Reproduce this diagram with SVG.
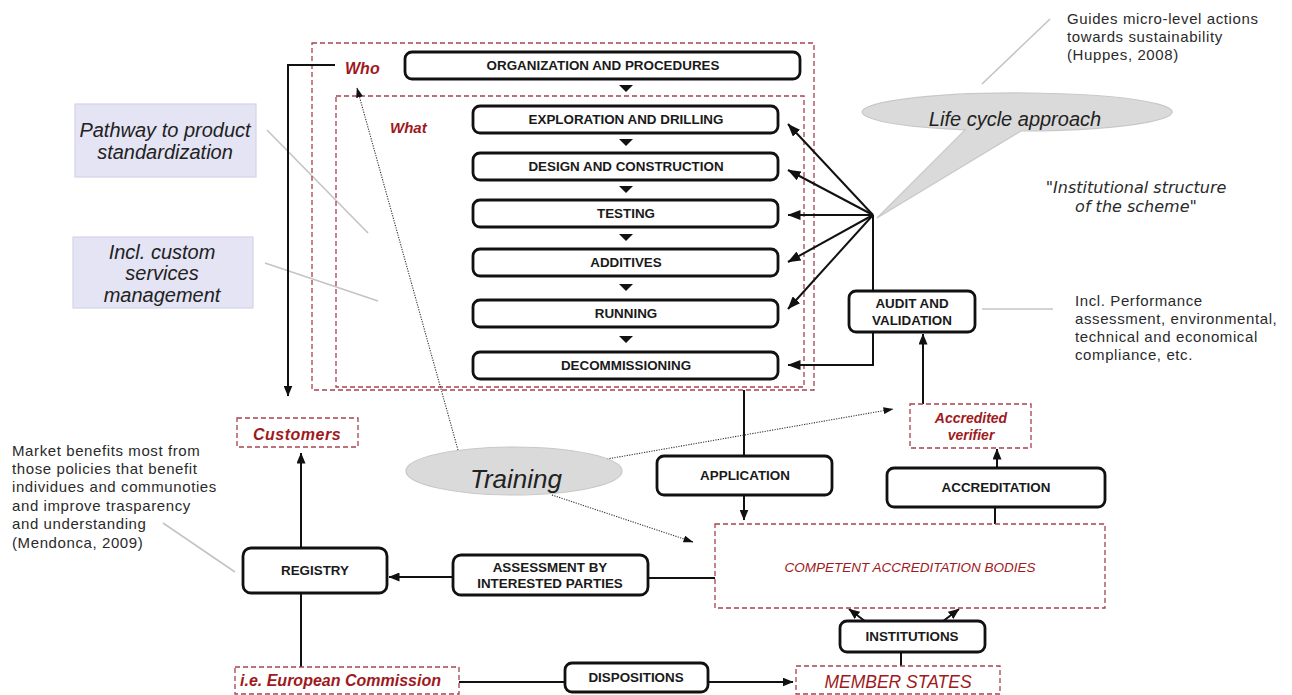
<svg xmlns="http://www.w3.org/2000/svg" width="1292" height="695" viewBox="0 0 1292 695">
<defs>
<marker id="ah" markerUnits="userSpaceOnUse" viewBox="0 0 11 9" markerWidth="11" markerHeight="9" refX="10.5" refY="4.5" orient="auto"><path d="M0,0 L11,4.5 L0,9 z" fill="#111"/></marker>
<marker id="ahb" markerUnits="userSpaceOnUse" viewBox="0 0 13 10" markerWidth="13" markerHeight="10" refX="12.5" refY="5" orient="auto"><path d="M0,0 L13,5 L0,10 z" fill="#111"/></marker>
<marker id="ahs" markerUnits="userSpaceOnUse" viewBox="0 0 10 7" markerWidth="10" markerHeight="7" refX="9.5" refY="3.5" orient="auto"><path d="M0,0 L10,3.5 L0,7 z" fill="#111"/></marker>
</defs>
<style>
.box{fill:#fff;stroke:#111;stroke-width:2.8}
.dash{fill:none;stroke:#a8404f;stroke-width:1.3;stroke-dasharray:5,3}
.dashw{fill:#fff;stroke:#a8404f;stroke-width:1.3;stroke-dasharray:5,3}
.lbl{font-family:"Liberation Sans",Arial,sans-serif;font-weight:bold;font-size:13.4px;fill:#1a1a1a;text-anchor:middle}
.red{font-family:"Liberation Sans",Arial,sans-serif;font-style:italic;font-weight:bold;fill:#9e1a1e}
.redn{font-family:"Liberation Sans",Arial,sans-serif;font-style:italic;fill:#9e1a1e}
.note{font-family:"Liberation Sans",Arial,sans-serif;font-size:15px;fill:#2a2a2a;letter-spacing:0.6px}
.big{font-family:"Liberation Sans",Arial,sans-serif;font-style:italic;fill:#222;text-anchor:middle}
.con{fill:none;stroke:#111;stroke-width:2}
.dot{fill:none;stroke:#333;stroke-width:1.1;stroke-dasharray:1.2,1.3}
.lead{stroke:#c4c4c4;stroke-width:1.6;fill:none}
.tri{fill:#111}
.bub{fill:#dadada;stroke:#c8c8c8;stroke-width:1.2}
.lav{fill:#e4e4f4;stroke:#d4d4ea;stroke-width:1.2}
</style>
<rect x="0" y="0" width="1292" height="695" fill="#fff"/>

<g id="annotations">
<path class="lead" d="M267,130 L368,233"/>
<path class="lead" d="M265,263 L378,301"/>
<path class="lead" d="M163,523 L235,572"/>
<path class="lead" d="M982,84 L1050,19"/>
<path class="lead" d="M982,309 L1053,309"/>
<text class="note" x="1067" y="24">Guides micro-level actions</text>
<text class="note" x="1067" y="42">towards sustainability</text>
<text class="note" x="1067" y="60">(Huppes, 2008)</text>
<text class="note" x="1075" y="306">Incl. Performance</text>
<text class="note" x="1075" y="324">assessment, environmental,</text>
<text class="note" x="1075" y="342">technical and economical</text>
<text class="note" x="1075" y="360">compliance, etc.</text>
<text class="note" x="12" y="456">Market benefits most from</text>
<text class="note" x="12" y="474">those policies that benefit</text>
<text class="note" x="12" y="492">individues and communoties</text>
<text class="note" x="12" y="511">and improve trasparency</text>
<text class="note" x="12" y="529">and understanding</text>
<text class="note" x="12" y="548">(Mendonca, 2009)</text>
<text x="1136" y="193" font-family="DejaVu Sans, sans-serif" font-style="italic" font-size="16" fill="#2a2a2a" text-anchor="middle">"Institutional structure</text>
<text x="1136" y="212" font-family="DejaVu Sans, sans-serif" font-style="italic" font-size="16" fill="#2a2a2a" text-anchor="middle">of the scheme"</text>
</g>

<g id="pathway">
<rect class="lav" x="75" y="104" width="181" height="73"/>
<text class="big" x="165" y="137" font-size="20">Pathway to product</text>
<text class="big" x="165" y="159" font-size="20">standardization</text>
</g>
<g id="custom">
<rect class="lav" x="73" y="237" width="180" height="71"/>
<text class="big" x="162" y="259" font-size="20">Incl. custom</text>
<text class="big" x="162" y="280" font-size="20">services</text>
<text class="big" x="162" y="302" font-size="20">management</text>
</g>

<g id="lifecycle">
<path class="bub" d="M965,129.9 L877,218 L1021,131 A155,19 0 1 0 965,129.9 Z"/>
<text class="big" x="1015" y="126" font-size="20">Life cycle approach</text>
</g>

<g id="who">
<rect class="dash" x="312" y="43" width="502" height="347"/>
<text class="red" x="345" y="74" font-size="16">Who</text>
</g>
<g id="what">
<rect class="dash" x="336" y="96" width="468" height="291"/>
<text class="red" x="390" y="133" font-size="15">What</text>
</g>

<g id="connectors">
<path class="con" d="M335,65 H288 V396" marker-end="url(#ah)"/>
<path class="con" d="M301,548 V453" marker-end="url(#ah)"/>
<path class="con" d="M301,593 V667"/>
<path class="con" d="M453,577 H389" marker-end="url(#ah)"/>
<path class="con" d="M715,578 H648"/>
<path class="con" d="M459,682 H565"/>
<path class="con" d="M708,682 H793" marker-end="url(#ah)"/>
<path class="con" d="M901,652 V666"/>
<path class="con" d="M866,622 L849,609" marker-end="url(#ah)"/>
<path class="con" d="M942,622 L959,609" marker-end="url(#ah)"/>
<path class="con" d="M744,390 V456"/>
<path class="con" d="M744,495 V520" marker-end="url(#ah)"/>
<path class="con" d="M995,524 V507"/>
<path class="con" d="M997,468 V449" marker-end="url(#ah)"/>
<path class="con" d="M923,404 V334" marker-end="url(#ah)"/>
<path class="con" d="M873,291 V215"/>
<path class="con" d="M873,215 L788,124" marker-end="url(#ahb)"/>
<path class="con" d="M873,215 L788,170" marker-end="url(#ahb)"/>
<path class="con" d="M873,215 L788,215" marker-end="url(#ahb)"/>
<path class="con" d="M873,215 L788,262" marker-end="url(#ahb)"/>
<path class="con" d="M873,215 L788,309" marker-end="url(#ahb)"/>
<path class="con" d="M873,332 V365 H788" marker-end="url(#ahb)"/>
<path class="dot" d="M458,450 L357,88" marker-end="url(#ahs)"/>
<path class="dot" d="M607,459 L893,409" marker-end="url(#ahs)"/>
<path class="dot" d="M552,495 L693,542" marker-end="url(#ahs)"/>
<polygon class="tri" points="619,85 633,85 626,92"/>
<polygon class="tri" points="619,139 633,139 626,146"/>
<polygon class="tri" points="619,186 633,186 626,193"/>
<polygon class="tri" points="619,234 633,234 626,241"/>
<polygon class="tri" points="619,284 633,284 626,291"/>
<polygon class="tri" points="619,336 633,336 626,343"/>
</g>

<g id="training">
<ellipse class="bub" cx="514" cy="471" rx="108" ry="24"/>
<text class="big" x="516" y="488" font-size="26">Training</text>
</g>

<g id="organization"><rect class="box" x="405" y="52" width="395" height="27" rx="7"/><text class="lbl" x="603" y="70">ORGANIZATION AND PROCEDURES</text></g>
<g id="exploration"><rect class="box" x="473" y="106" width="305" height="27" rx="7"/><text class="lbl" x="626" y="124">EXPLORATION AND DRILLING</text></g>
<g id="design"><rect class="box" x="473" y="153" width="305" height="27" rx="7"/><text class="lbl" x="626" y="171">DESIGN AND CONSTRUCTION</text></g>
<g id="testing"><rect class="box" x="473" y="200" width="305" height="27" rx="7"/><text class="lbl" x="626" y="218">TESTING</text></g>
<g id="additives"><rect class="box" x="473" y="249" width="305" height="27" rx="7"/><text class="lbl" x="626" y="267">ADDITIVES</text></g>
<g id="running"><rect class="box" x="473" y="300" width="305" height="27" rx="7"/><text class="lbl" x="626" y="318">RUNNING</text></g>
<g id="decommissioning"><rect class="box" x="473" y="352" width="305" height="27" rx="7"/><text class="lbl" x="626" y="370">DECOMMISSIONING</text></g>
<g id="audit"><rect class="box" x="849" y="291" width="126" height="41" rx="7"/><text class="lbl" x="912" y="308">AUDIT AND</text><text class="lbl" x="912" y="325">VALIDATION</text></g>
<g id="verifier"><rect class="dashw" x="910" y="404" width="121" height="44"/><text class="red" x="971" y="423" font-size="14" text-anchor="middle">Accredited</text><text class="red" x="971" y="440" font-size="14" text-anchor="middle">verifier</text></g>
<g id="application"><rect class="box" x="657" y="456" width="175" height="39" rx="7"/><text class="lbl" x="745" y="480">APPLICATION</text></g>
<g id="accreditation"><rect class="box" x="887" y="468" width="218" height="39" rx="7"/><text class="lbl" x="996" y="492">ACCREDITATION</text></g>
<g id="competent"><rect class="dashw" x="715" y="524" width="390" height="84"/><text class="redn" x="910" y="572" font-size="13.5" text-anchor="middle">COMPETENT ACCREDITATION BODIES</text></g>
<g id="customers"><rect class="dashw" x="237" y="418" width="121" height="29"/><text class="red" x="297" y="440" font-size="16" text-anchor="middle" letter-spacing="0.5">Customers</text></g>
<g id="registry"><rect class="box" x="243" y="548" width="144" height="45" rx="8"/><text class="lbl" x="315" y="575">REGISTRY</text></g>
<g id="assessment"><rect class="box" x="453" y="555" width="195" height="40" rx="8"/><text class="lbl" x="550" y="572">ASSESSMENT BY</text><text class="lbl" x="550" y="588">INTERESTED PARTIES</text></g>
<g id="institutions"><rect class="box" x="840" y="621" width="145" height="31" rx="7"/><text class="lbl" x="912" y="641">INSTITUTIONS</text></g>
<g id="commission"><rect class="dashw" x="235" y="667" width="224" height="27"/><text class="red" x="240" y="686" font-size="16">i.e. European Commission</text></g>
<g id="dispositions"><rect class="box" x="565" y="663" width="143" height="29" rx="7"/><text class="lbl" x="636" y="682">DISPOSITIONS</text></g>
<g id="memberstates"><rect class="dashw" x="796" y="666" width="204" height="28"/><text class="redn" x="898" y="688" font-size="17.5" text-anchor="middle">MEMBER STATES</text></g>
</svg>
